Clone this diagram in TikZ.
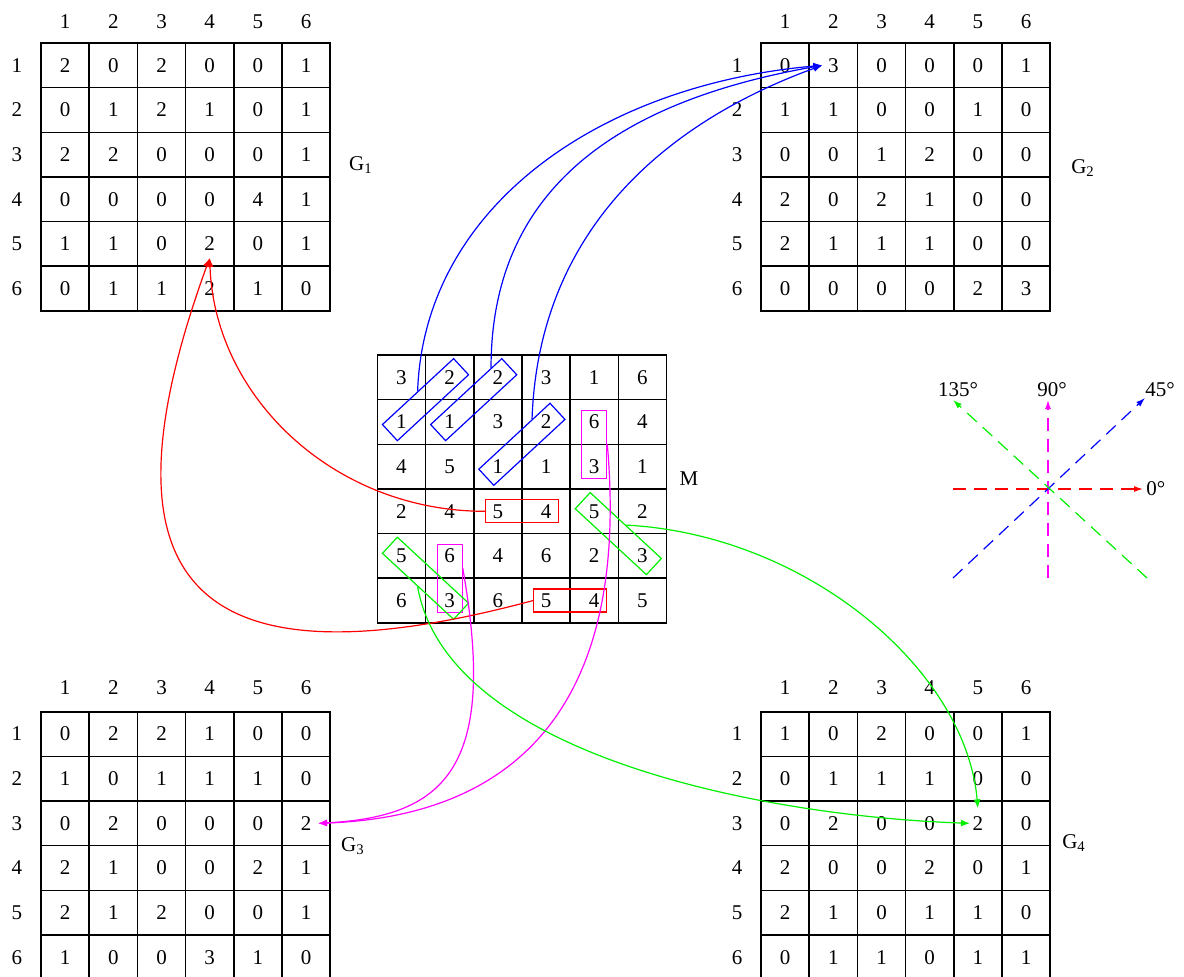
\documentclass[tikz,border=0pt]{standalone}
\usepackage{fontspec}
\setmainfont{Liberation Serif}
\usetikzlibrary{calc,arrows.meta}
\definecolor{cblue}{RGB}{0,0,255}
\definecolor{cred}{RGB}{255,0,0}
\definecolor{cgreen}{RGB}{0,240,0}
\definecolor{cmag}{RGB}{255,0,255}
\newcommand{\mkmat}[4]{%
  \foreach \row [count=\r] in {#4} {
    \foreach \v [count=\c] in \row {
      \node[cell] (#1-\r-\c) at ({#2+(\c-0.5)*48.2}, {-(#3+(\r-0.5)*44.65)}) {\v};
    }
  }%
}
\newcommand{\mkheads}[5]{% name, x0, header y, row-label x, y0
  \foreach \c in {1,...,6} {
    \node[lab] (#1-h\c) at ({#2+(\c-0.5)*48.2}, {-#3}) {\c};
    \node[lab] (#1-r\c) at ({#4}, {-(#5+(\c-0.5)*44.65)}) {\c};
  }%
}
\begin{document}
\begin{tikzpicture}[x=0.5pt,y=0.5pt,
  cell/.style={draw=black, line width=0.8pt, minimum width=24.1pt, minimum height=22.33pt, inner sep=0pt, outer sep=0pt, font=\fontsize{10.5}{12}\selectfont},
  lab/.style={inner sep=0pt, font=\fontsize{10.5}{12}\selectfont},
  selbox/.style={draw, line width=0.6pt, inner sep=0pt, minimum width=48.5pt, minimum height=11pt},
  vbox/.style={draw, line width=0.6pt, inner sep=0pt, minimum width=12.5pt, minimum height=34pt},
  hbox/.style={draw, line width=0.6pt, inner sep=0pt, minimum width=36.5pt, minimum height=11.5pt},
  conn/.style={line width=0.6pt, -{Latex[length=4.5pt,width=3.5pt]}},
  dirarrow/.style={line width=0.6pt, dash pattern=on 6.5pt off 4pt, -{Latex[length=4.5pt,width=3pt]}},
]
\useasboundingbox (0,0) rectangle (1184,-976);
\clip (0,0) rectangle (1184,-976);

% ---------- matrices ----------
\mkmat{g1}{41}{43}{{2,0,2,0,0,1},{0,1,2,1,0,1},{2,2,0,0,0,1},{0,0,0,0,4,1},{1,1,0,2,0,1},{0,1,1,2,1,0}}
\mkheads{g1}{41}{22}{17}{43}
\node[lab] (g1-name) at (361,-165) {G\textsubscript{1}};

\mkmat{g2}{761}{43}{{0,3,0,0,0,1},{1,1,0,0,1,0},{0,0,1,2,0,0},{2,0,2,1,0,0},{2,1,1,1,0,0},{0,0,0,0,2,3}}
\mkheads{g2}{761}{22}{737}{43}
\node[lab] (g2-name) at (1083,-168) {G\textsubscript{2}};

\mkmat{g3}{41}{711.7}{{0,2,2,1,0,0},{1,0,1,1,1,0},{0,2,0,0,0,2},{2,1,0,0,2,1},{2,1,2,0,0,1},{1,0,0,3,1,0}}
\mkheads{g3}{41}{688}{17}{711.7}
\node[lab] (g3-name) at (353,-846) {G\textsubscript{3}};

\mkmat{g4}{761}{711.7}{{1,0,2,0,0,1},{0,1,1,1,0,0},{0,2,0,0,2,0},{2,0,0,2,0,1},{2,1,0,1,1,0},{0,1,1,0,1,1}}
\mkheads{g4}{761}{688}{737}{711.7}
\node[lab] (g4-name) at (1074,-843) {G\textsubscript{4}};

\mkmat{m}{377.3}{355}{{3,2,2,3,1,6},{1,1,3,2,6,4},{4,5,1,1,3,1},{2,4,5,4,5,2},{5,6,4,6,2,3},{6,3,6,5,4,5}}
\node[lab] (m-name) at (689,-479) {M};

% ---------- selection boxes in M ----------
\node[selbox, cblue, rotate=42.8] (bb1) at ($(m-2-1)!0.5!(m-1-2)$) {};
\node[selbox, cblue, rotate=42.8] (bb2) at ($(m-2-2)!0.5!(m-1-3)$) {};
\node[selbox, cblue, rotate=42.8] (bb3) at ($(m-3-3)!0.5!(m-2-4)$) {};
\node[vbox, cmag] (pb1) at ($(m-2-5)!0.5!(m-3-5)$) {};
\node[vbox, cmag] (pb2) at ($(m-5-2)!0.5!(m-6-2)$) {};
\node[hbox, cred] (rb1) at ($(m-4-3)!0.5!(m-4-4)$) {};
\node[hbox, cred] (rb2) at ($(m-6-4)!0.5!(m-6-5)$) {};
\node[selbox, cgreen, rotate=-42.8] (gb1) at ($(m-4-5)!0.5!(m-5-6)$) {};
\node[selbox, cgreen, rotate=-42.8] (gb2) at ($(m-5-1)!0.5!(m-6-2)$) {};

% ---------- target points ----------
\coordinate (t2) at ($(g2-1-2)+(-11,0)$);
\coordinate (t1) at ($(g1-5-4)+(0,-14)$);
\coordinate (t3) at ($(g3-3-6)+(12,0)$);
\coordinate (t4a) at ($(g4-3-5)+(0,15)$);
\coordinate (t4b) at ($(g4-3-5)+(-8,0)$);

% ---------- connectors ----------
\draw[conn, cblue] (bb1.north) to[out=88,in=185,out distance=92pt,in distance=112pt] (t2);
\draw[conn, cblue] ($(bb2.north)!0.7!(bb2.north east)$) to[out=90,in=190,out distance=92pt,in distance=100pt] (t2);
\draw[conn, cblue] ($(bb3.north)!0.5!(bb3.north east)$) to[out=88,in=200,out distance=97pt,in distance=80pt] (t2);

\draw[conn, cred] (rb1.west) to[out=180,in=272,out distance=75pt,in distance=70pt] (t1);
\draw[conn, cred] (rb2.west) to[out=195,in=250,out distance=175pt,in distance=175pt] (t1);

\draw[conn, cmag] ($(pb2.east)!0.3!(pb2.north east)$) to[out=-80,in=3,out distance=100pt,in distance=65pt] (t3);
\draw[conn, cmag] (pb1.east) to[out=-85,in=2,out distance=130pt,in distance=100pt] (t3);

\draw[conn, cgreen] (gb1.north) to[out=-3,in=95,out distance=90pt,in distance=70pt] (t4a);
\draw[conn, cgreen] (gb2.south) to[out=-80,in=178,out distance=85pt,in distance=105pt] (t4b);

% ---------- direction legend ----------
\coordinate (d0s) at (953,-489);   \coordinate (d0e) at (1143,-489);
\coordinate (d90s) at (1048,-578); \coordinate (d90e) at (1048,-400);
\coordinate (d45s) at (953,-578);  \coordinate (d45e) at (1145,-398);
\coordinate (d135s) at (1147,-578);\coordinate (d135e) at (953,-400);
\draw[dirarrow, cred] (d0s) -- (d0e);
\draw[dirarrow, cmag] (d90s) -- (d90e);
\draw[dirarrow, cblue] (d45s) -- (d45e);
\draw[dirarrow, cgreen] (d135s) -- (d135e);
\node[lab, anchor=west] (l0) at (1146,-489) {0°};
\node[lab] (l90) at (1052,-390) {90°};
\node[lab] (l45) at (1160,-390) {45°};
\node[lab] (l135) at (958,-390) {135°};
\end{tikzpicture}
\end{document}
